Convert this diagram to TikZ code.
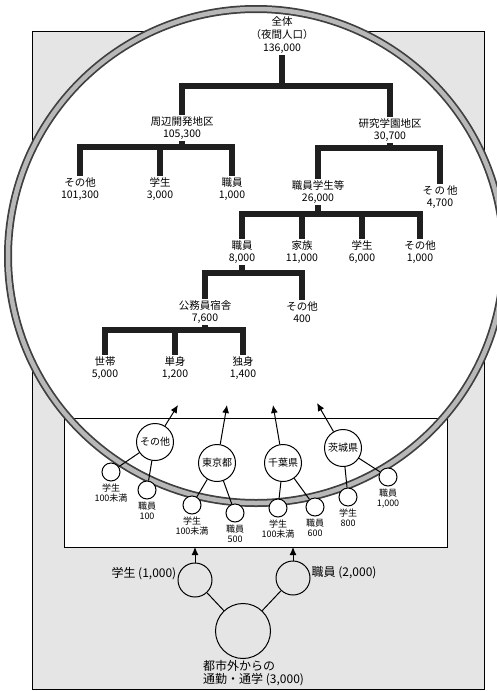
\documentclass[tikz,border=0pt]{standalone}
\usepackage{fontspec}
\setmainfont{Noto Sans CJK JP}
\usetikzlibrary{positioning,arrows.meta}

\begin{document}
\begin{tikzpicture}
 [x=1pt, y=-1pt,
  tree node/.style={align=center, inner sep=1.5pt, font=\fontsize{10.5}{12}\selectfont},
  bar/.style={line width=6.5pt, black!88, line join=miter},
  pref node/.style={circle, draw, line width=1pt, fill=white, minimum size=37pt, inner sep=0pt, font=\fontsize{10}{11}\selectfont},
  small node/.style={circle, draw, line width=1pt, fill=white, minimum size=18pt, inner sep=0pt},
  sub node/.style={align=center, inner sep=1pt, font=\fontsize{9}{10.5}\selectfont},
  big label/.style={inner sep=1pt, font=\fontsize{12}{13}\selectfont},
  link/.style={line width=1pt},
  flow/.style={line width=1pt, -{Latex[length=8pt,width=7pt]}}]

\useasboundingbox (0,0) rectangle (496,691);

% frame, ring and lower box
\fill[black!10] (32,31) rectangle (484,689);
\draw[line width=0.8pt] (32,31) rectangle (484,689);
\fill[white] (256,256) ellipse [x radius=248pt, y radius=247pt];
\draw[line width=0.8pt, fill=white] (64,418) rectangle (447,547);
\draw[line width=8pt, black!75] (256,256) ellipse [x radius=248pt, y radius=247pt];
\draw[line width=4.5pt, black!28] (256,256) ellipse [x radius=248pt, y radius=247pt];

% tree
\node[tree node, font=\fontsize{10.5}{13}\selectfont] (root) at (282,35) {全体\\（夜間人口）\\136,000};
\node[tree node] (shuhen) at (182,128) {周辺開発地区\\105,300};
\node[tree node] (kenkyu) at (390,130) {研究学園地区\\30,700};
\node[tree node] (sh-other) at (80,189) {その他\\101,300};
\node[tree node] (sh-student) at (160,189) {学生\\3,000};
\node[tree node] (sh-staff) at (232,189) {職員\\1,000};
\node[tree node] (staffetc) at (318,192) {職員学生等\\26,000};
\node[tree node] (ke-other) at (440,197) {そ\,の\,他\\4,700};
\node[tree node] (st-staff) at (242,252) {職員\\8,000};
\node[tree node] (st-family) at (302,252) {家族\\11,000};
\node[tree node] (st-student) at (362,252) {学生\\6,000};
\node[tree node] (st-other) at (420,252) {その他\\1,000};
\node[tree node] (housing) at (205,312) {公務員宿舎\\7,600};
\node[tree node] (hs-other) at (302,312) {その他\\400};
\node[tree node] (household) at (105,368) {世帯\\5,000};
\node[tree node] (single) at (175,368) {単身\\1,200};
\node[tree node] (alone) at (243,368) {独身\\1,400};

\coordinate (b-root) at (282,86);
\draw[bar] (root.south) -- (b-root);
\draw[bar] (shuhen.north) |- (b-root) -| (kenkyu.north);

\coordinate (b-shuhen) at (182,147);
\draw[bar] (shuhen.south) -- (b-shuhen);
\draw[bar] (sh-other.north) |- (b-shuhen) -| (sh-staff.north);
\draw[bar] (sh-student.north) -- (sh-student.north |- b-shuhen);

\coordinate (b-kenkyu) at (390,148);
\draw[bar] (kenkyu.south) -- (b-kenkyu);
\draw[bar] (staffetc.north) |- (b-kenkyu) -| (ke-other.north);

\coordinate (b-staffetc) at (318,214);
\draw[bar] (staffetc.south) -- (b-staffetc);
\draw[bar] (st-staff.north) |- (b-staffetc) -| (st-other.north);
\draw[bar] (st-family.north) -- (st-family.north |- b-staffetc);
\draw[bar] (st-student.north) -- (st-student.north |- b-staffetc);

\coordinate (b-ststaff) at (242,273);
\draw[bar] (st-staff.south) -- (b-ststaff);
\draw[bar] (housing.north) |- (b-ststaff) -| (hs-other.north);

\coordinate (b-housing) at (205,330);
\draw[bar] (housing.south) -- (b-housing);
\draw[bar] (household.north) |- (b-housing) -| (alone.north);
\draw[bar] (single.north) -- (single.north |- b-housing);

% inflow by prefecture
\node[pref node] (others) at (155,442) {その他};
\node[pref node] (tokyo) at (217,463) {東京都};
\node[pref node] (chiba) at (283,463) {千葉県};
\node[pref node] (ibaraki) at (343,448) {茨城県};

\coordinate (in-others) at (178,405);
\coordinate (in-tokyo) at (227,405);
\coordinate (in-chiba) at (273,405);
\coordinate (in-ibaraki) at (317,403);
\draw[flow] (others) -- (in-others);
\draw[flow] (tokyo) -- (in-tokyo);
\draw[flow] (chiba) -- (in-chiba);
\draw[flow] (ibaraki) -- (in-ibaraki);

\node[small node] (ot-st) at (111,472) {};
\node[small node] (ot-sf) at (147,490) {};
\node[small node] (tk-st) at (192,505) {};
\node[small node] (tk-sf) at (235,513) {};
\node[small node] (cb-st) at (278,508) {};
\node[small node] (cb-sf) at (315,507) {};
\node[small node] (ib-st) at (348,497) {};
\node[small node] (ib-sf) at (388,477) {};

\draw[link] (others) -- (ot-st);
\draw[link] (others) -- (ot-sf);
\draw[link] (tokyo) -- (tk-st);
\draw[link] (tokyo) -- (tk-sf);
\draw[link] (chiba) -- (cb-st);
\draw[link] (chiba) -- (cb-sf);
\draw[link] (ibaraki) -- (ib-st);
\draw[link] (ibaraki) -- (ib-sf);

\node[sub node, below=1pt of ot-st] (ot-st-l) {学生\\100未満};
\node[sub node, below=1pt of ot-sf] (ot-sf-l) {職員\\100};
\node[sub node, below=1pt of tk-st] (tk-st-l) {学生\\100未満};
\node[sub node, below=1pt of tk-sf] (tk-sf-l) {職員\\500};
\node[sub node, below=1pt of cb-st] (cb-st-l) {学生\\100未満};
\node[sub node, below=1pt of cb-sf] (cb-sf-l) {職員\\600};
\node[sub node, below=1pt of ib-st] (ib-st-l) {学生\\800};
\node[sub node, below=1pt of ib-sf] (ib-sf-l) {職員\\1,000};

% from outside the city
\node[pref node, fill=none, minimum size=34pt] (stu) at (195,580) {};
\node[pref node, fill=none, minimum size=34pt] (staff) at (293,578) {};
\node[pref node, fill=none, minimum size=55pt] (outside) at (243,631) {};

\coordinate (in-stu) at (195,547);
\coordinate (in-staff) at (293,547);
\draw[flow] (stu) -- (in-stu);
\draw[flow] (staff) -- (in-staff);
\draw[link] (outside) -- (stu);
\draw[link] (outside) -- (staff);

\node[big label, left=0pt of stu, yshift=6pt] (stu-l) {学生 (1,000)};
\node[big label, right=0pt of staff, yshift=5pt] (staff-l) {職員 (2,000)};
\node[big label, align=left, anchor=north west] (outside-l) at (202,659) {都市外からの\\通勤・通学 (3,000)};

\end{tikzpicture}
\end{document}
